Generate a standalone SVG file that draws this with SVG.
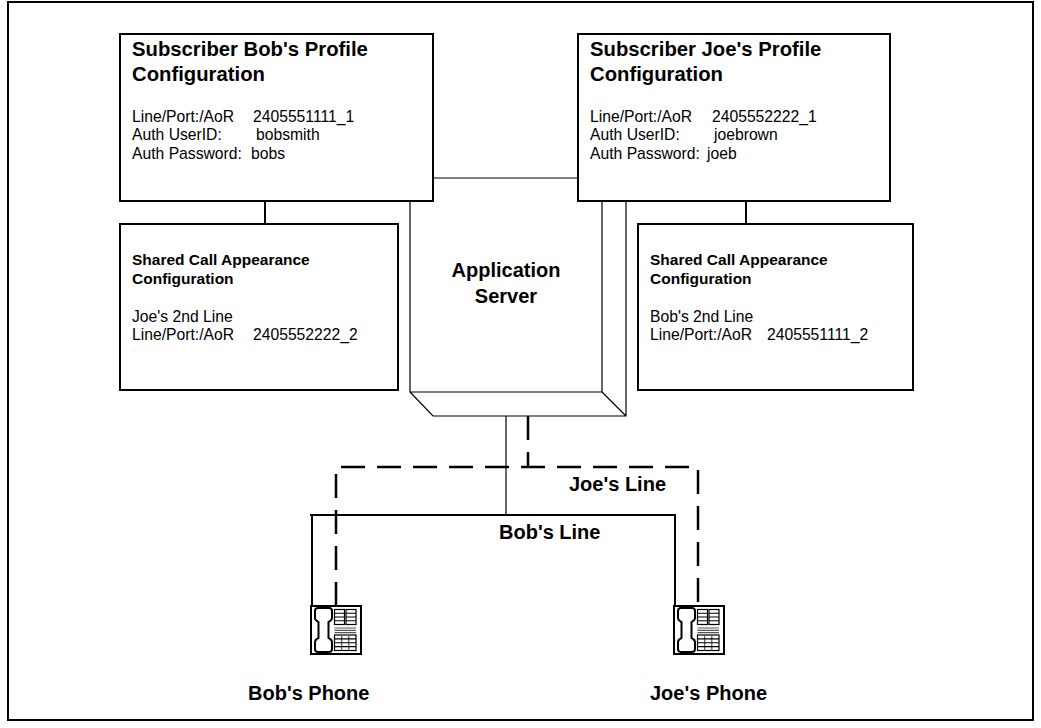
<svg xmlns="http://www.w3.org/2000/svg" width="1041" height="728" viewBox="0 0 1041 728">
<style>
.box{fill:#fff;stroke:#000;stroke-width:2}
.thin{fill:none;stroke:#000;stroke-width:1.2}
.title{font-family:"Liberation Sans",Arial,sans-serif;font-weight:bold;font-size:20.3px;fill:#000}
.big{font-family:"Liberation Sans",Arial,sans-serif;font-weight:bold;font-size:20px;fill:#000}
.sub{font-family:"Liberation Sans",Arial,sans-serif;font-weight:bold;font-size:15.5px;fill:#000}
.body{font-family:"Liberation Sans",Arial,sans-serif;font-size:15.7px;fill:#000}
.solid{fill:none;stroke:#000;stroke-width:2}
.dash{fill:none;stroke:#000;stroke-width:2.5;stroke-dasharray:24 12}
.ph{fill:#fff;stroke:#000;stroke-width:2}
.hs{fill:#fff;stroke:#000;stroke-width:2}
.kp{fill:#fff;stroke:#000;stroke-width:1.2}
.gl{stroke:#555;stroke-width:1.2}
</style>
<defs>
<g id="phone">
<rect class="ph" x="0" y="0" width="50" height="48"/>
<path class="hs" d="M4,5 Q4,2 7,2 L18,2 Q21,2 21,5 L21,12 Q21,14 19,15 L17.5,16 L17.5,32 L19,33 Q21,34 21,36 L21,43 Q21,46 18,46 L7,46 Q4,46 4,43 L4,36 Q4,34 6,33 L7.5,32 L7.5,16 L6,15 Q4,14 4,12 Z"/>
<rect class="kp" x="23.5" y="3.5" width="10" height="15"/>
<rect class="kp" x="35" y="3.5" width="10" height="15"/>
<path class="kp" d="M23.5,7.25H33.5M23.5,11H33.5M23.5,14.75H33.5M35,7.25H45M35,11H45M35,14.75H45"/>
<path class="gl" d="M23.5,22H45M23.5,24.3H45M23.5,26.6H45"/>
<rect class="kp" x="23.5" y="29" width="21.5" height="15.5"/>
<path class="gl" d="M30.7,29V44.5M37.8,29V44.5"/>
<path class="kp" d="M23.5,32.9H45M23.5,36.75H45M23.5,40.6H45"/>
</g>
</defs>
<rect id="frame" x="8" y="2" width="1025" height="718" fill="#fff" stroke="#000" stroke-width="2"/>
<g id="server">
<path class="thin" d="M433,178H578"/>
<path class="thin" d="M410,201V392H602V201M410,392L433,416H626V201M602,392L626,416"/>
<text class="big" x="506" y="277" text-anchor="middle">Application</text>
<text class="big" x="506" y="303" text-anchor="middle">Server</text>
</g>
<g id="connectors">
<path class="solid" d="M265,201V224"/>
<path class="solid" d="M746,201V224"/>
<path class="thin" d="M506,416V515"/>
<path class="solid" d="M310,515H675V606M312,515V606"/>
<path class="dash" d="M528,416V467"/>
<path class="dash" d="M336,606V467H698V606"/>
<text class="big" x="569" y="491">Joe's Line</text>
<text class="big" x="499" y="539">Bob's Line</text>
</g>
<g id="bob-profile">
<rect class="box" x="120" y="34" width="313" height="167"/>
<text class="title" x="132" y="56">Subscriber Bob's Profile</text>
<text class="title" x="132" y="81">Configuration</text>
<text class="body" x="132" y="121.5">Line/Port:/AoR</text>
<text class="body" x="253" y="121.5">2405551111_1</text>
<text class="body" x="132" y="140">Auth UserID:</text>
<text class="body" x="256" y="140">bobsmith</text>
<text class="body" x="132" y="158.5">Auth Password:</text>
<text class="body" x="251" y="158.5">bobs</text>
</g>
<g id="joe-profile">
<rect class="box" x="578" y="34" width="312" height="167"/>
<text class="title" x="590" y="56">Subscriber Joe's Profile</text>
<text class="title" x="590" y="81">Configuration</text>
<text class="body" x="590" y="121.5">Line/Port:/AoR</text>
<text class="body" x="712" y="121.5">2405552222_1</text>
<text class="body" x="590" y="140">Auth UserID:</text>
<text class="body" x="714" y="140">joebrown</text>
<text class="body" x="590" y="158.5">Auth Password:</text>
<text class="body" x="707" y="158.5">joeb</text>
</g>
<g id="bob-shared">
<rect class="box" x="120" y="224" width="278" height="166"/>
<text class="sub" x="132" y="264.5">Shared Call Appearance</text>
<text class="sub" x="132" y="283.5">Configuration</text>
<text class="body" x="132" y="321.5">Joe's 2nd Line</text>
<text class="body" x="132" y="340">Line/Port:/AoR</text>
<text class="body" x="253" y="340">2405552222_2</text>
</g>
<g id="joe-shared">
<rect class="box" x="638" y="224" width="275" height="166"/>
<text class="sub" x="650" y="264.5">Shared Call Appearance</text>
<text class="sub" x="650" y="283.5">Configuration</text>
<text class="body" x="650" y="321.5">Bob's 2nd Line</text>
<text class="body" x="650" y="340">Line/Port:/AoR</text>
<text class="body" x="767" y="340">2405551111_2</text>
</g>
<g id="bob-phone">
<use href="#phone" x="311" y="606"/>
<text class="big" x="248" y="700">Bob's Phone</text>
</g>
<g id="joe-phone">
<use href="#phone" x="674" y="606"/>
<text class="big" x="650" y="700">Joe's Phone</text>
</g>
</svg>
